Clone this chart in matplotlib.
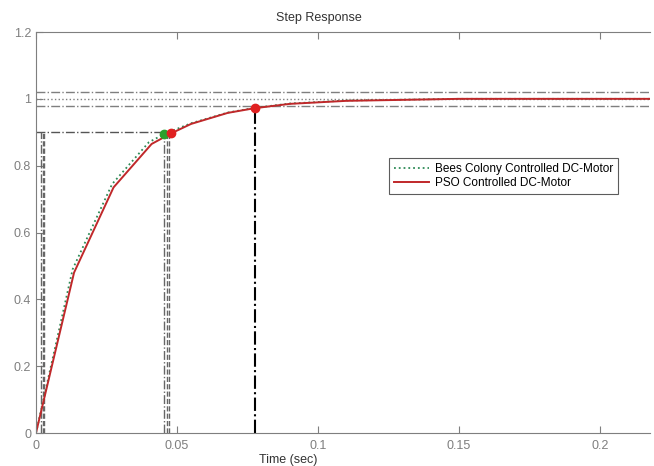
import matplotlib.pyplot as plt

# step response samples
t_pso = [0, 0.0135, 0.0275, 0.041, 0.048, 0.055, 0.068, 0.0775, 0.09, 0.11, 0.15, 0.218]
y_pso = [0, 0.48, 0.735, 0.865, 0.897, 0.925, 0.958, 0.972, 0.985, 0.994, 1.0, 1.0]
t_bees = [0, 0.013, 0.027, 0.04, 0.0455, 0.055, 0.068, 0.0775, 0.09, 0.11, 0.15, 0.218]
y_bees = [0, 0.49, 0.745, 0.87, 0.895, 0.927, 0.959, 0.973, 0.986, 0.995, 1.0, 1.0]

# characteristic points
rise_t = [0.0455, 0.048]
rise_y = [0.895, 0.897]
settle_t = 0.0775
settle_y = 0.972
rise_start = [0.0017, 0.0024, 0.003]
rise_end = [0.0455, 0.0463, 0.0473]

xticks = [0, 0.05, 0.1, 0.15, 0.2]
xticklabels = ['0', '0.05', '0.1', '0.15', '0.2']
yticks = [0, 0.2, 0.4, 0.6, 0.8, 1, 1.2]
yticklabels = ['0', '0.2', '0.4', '0.6', '0.8', '1', '1.2']

plt.rcParams['font.family'] = ['Liberation Sans', 'DejaVu Sans']
grey = '#7f7f7f'

fig = plt.figure(figsize=(6.54, 4.66), dpi=100)
ax = fig.add_axes([0.055, 0.0708, 0.939, 0.8605])

# settling band and final value
ax.axhline(1.02, color=grey, ls='-.', lw=1)
ax.axhline(1.0, color=grey, ls=':', lw=1)
ax.axhline(0.98, color=grey, ls='-.', lw=1)

# rise time guides
ax.plot([0, rise_t[1]], [0.9, 0.9], color='#555555', ls='-.', lw=1)
for i, x in enumerate(rise_start):
    ax.plot([x, x], [0, 0.9], color='#666666', ls='-.' if i == 0 else '--', lw=1)
for i, x in enumerate(rise_end):
    ax.plot([x, x], [0, 0.9], color='#666666', ls='-.' if i == 0 else '--', lw=1)

# settling time guide
ax.plot([settle_t, settle_t], [0, settle_y], color='black', ls='-.', lw=1.5)

ax.plot(t_bees, y_bees, color='#2e8b57', ls=':', lw=1.3, label='Bees Colony Controlled DC-Motor')
ax.plot(t_pso, y_pso, color='#c0282a', ls='-', lw=1.4, label='PSO Controlled DC-Motor')

ax.plot(rise_t[0], rise_y[0], 'o', color='#2ca02c', ms=6)
ax.plot(rise_t[1], rise_y[1], 'o', color='#e02020', ms=6)
ax.plot(settle_t, settle_y, 'o', color='#e02020', ms=6)

ax.set_xlim(0, 0.2177)
ax.set_ylim(0, 1.2)
ax.set_xticks(xticks)
ax.set_xticklabels(xticklabels)
ax.set_yticks(yticks)
ax.set_yticklabels(yticklabels)
ax.tick_params(direction='in', colors=grey, labelsize=9, length=5, top=True)
ax.tick_params(axis='x', pad=5)
for side in ['left', 'bottom', 'top']:
    ax.spines[side].set_color(grey)
ax.spines['right'].set_visible(False)

ax.set_title('Step Response', fontsize=9, x=0.46, pad=8, color='#333333')
ax.set_xlabel('Time (sec)', fontsize=9, color='#333333')
ax.xaxis.set_label_coords(0.41, -0.052)

leg = ax.legend(loc='upper left', bbox_to_anchor=(0.565, 0.7), fontsize=8.5,
                frameon=True, fancybox=False, handlelength=3, borderpad=0.4,
                labelspacing=0.2, handletextpad=0.5)
leg.get_frame().set_edgecolor('#333333')
leg.get_frame().set_linewidth(0.8)

plt.savefig('out.png', dpi=100)
